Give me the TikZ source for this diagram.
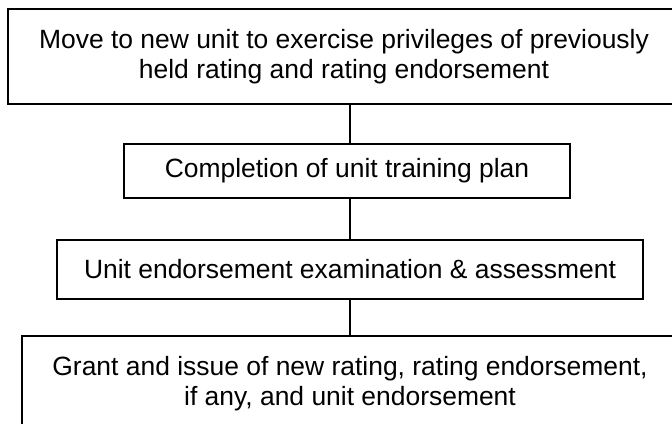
\documentclass[tikz,border=0pt]{standalone}
\usepackage{fontspec}
\setmainfont{Liberation Sans}
\usetikzlibrary{positioning}

\begin{document}
\begin{tikzpicture}[x=0.025cm, y=-0.025cm,
    stagebox/.style={shape=rectangle, draw, line width=1.4pt, align=center, inner sep=0pt, font=\fontsize{18.8}{21.5}\selectfont},
    link/.style={line width=1.4pt}]
  % Canvas:
  \clip (0,0) rectangle (672,423);
  % Boxes:
  \node[stagebox, minimum width=16.8cm, minimum height=2.375cm] (move) at (344,56.5) {Move to new unit to exercise privileges of previously\\held rating and rating endorsement};
  \node[stagebox, minimum width=11.15cm, minimum height=1.35cm] (plan) at (347,171) {Completion of unit training plan};
  \node[stagebox, minimum width=14.65cm, minimum height=1.475cm] (exam) at (350,269.5) {Unit endorsement examination \& assessment};
  \node[stagebox, minimum width=16.4cm, minimum height=2.375cm] (grant) at (350,383.5) {Grant and issue of new rating, rating endorsement,\\if any, and unit endorsement};
  % Links:
  \draw[link] (move.south -| exam.north) -- (plan.north -| exam.north);
  \draw[link] (plan.south -| exam.north) -- (exam.north);
  \draw[link] (exam.south) -- (grant.north);
\end{tikzpicture}
\end{document}
